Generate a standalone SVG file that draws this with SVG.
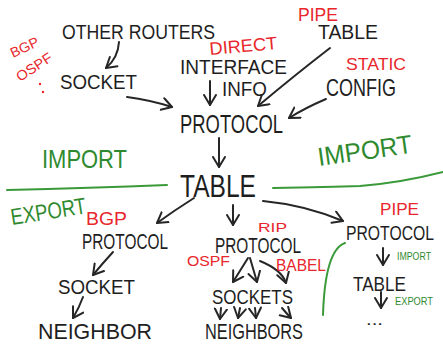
<svg xmlns="http://www.w3.org/2000/svg" width="443" height="344" viewBox="0 0 443 344">
<style>
.k{font-family:"Liberation Sans","DejaVu Sans",sans-serif;fill:#1e1e1e;}
.r{font-family:"Liberation Sans","DejaVu Sans",sans-serif;fill:#e8262b;}
.g{font-family:"Liberation Sans","DejaVu Sans",sans-serif;fill:#2f8a2f;}
.a{fill:none;stroke:#262626;stroke-width:2;stroke-linecap:round;marker-end:url(#h);}
.gl{fill:none;stroke:#3a9a3a;stroke-width:2;stroke-linecap:round;}
</style>
<defs>
<marker id="h" markerUnits="userSpaceOnUse" markerWidth="16" markerHeight="16" refX="11" refY="7" orient="auto">
<path d="M1,1 L11,7 L1,13" fill="none" stroke="#262626" stroke-width="2" stroke-linecap="round" stroke-linejoin="round"/>
</marker>
</defs>
<rect width="443" height="344" fill="#fff"/>
<g id="connectors">
<path class="a" d="M119,42 Q118,58 106,68"/>
<path class="a" d="M127,97 Q150,100 172,107"/>
<path class="a" d="M210,81 L210,105"/>
<path class="a" d="M330,48 Q295,75 258,106"/>
<path class="a" d="M326,99 Q305,108 289,118"/>
<path class="a" d="M219,138 L219,167"/>
<path class="a" d="M194,198 Q175,210 157,223"/>
<path class="a" d="M233,205 L233,225"/>
<path class="a" d="M263,201 Q305,205 343,221"/>
<path class="a" d="M113,252 Q102,264 93,275"/>
<path class="a" d="M83,297 Q79,308 73,318"/>
<path class="a" d="M248,258 L233,282"/>
<path class="a" d="M250,258 L257,282"/>
<path class="a" d="M260,261 Q282,270 286,283"/>
<path class="a" d="M221,308 L220,319"/>
<path class="a" d="M240,308 L238,318"/>
<path class="a" d="M255,308 L256,318"/>
<path class="a" d="M282,308 Q288,315 291,318"/>
<path class="a" d="M383,248 L383,265"/>
<path class="a" d="M381,292 L381,308"/>
<path class="gl" d="M7,190 Q90,188 167,185"/>
<path class="gl" d="M273,188 Q330,187 360,186 Q400,183 443,172"/>
<path class="gl" d="M345,243 Q325,250 323,315"/>
</g>
<g id="other-routers"><text class="k" x="62" y="39" font-size="20" textLength="153" lengthAdjust="spacingAndGlyphs">OTHER ROUTERS</text></g>
<g id="socket-top"><text class="k" x="60" y="89" font-size="21" textLength="77" lengthAdjust="spacingAndGlyphs">SOCKET</text></g>
<g id="bgp-ospf-top">
<text class="r" x="13" y="58" font-size="14" transform="rotate(-25 13 58)" textLength="30" lengthAdjust="spacingAndGlyphs">BGP</text>
<text class="r" x="20" y="82" font-size="14" transform="rotate(-33 20 82)" textLength="40" lengthAdjust="spacingAndGlyphs">OSPF</text>
<circle cx="40" cy="84" r="1.2" fill="#e8262b"/><circle cx="43" cy="92" r="1.2" fill="#e8262b"/>
</g>
<g id="interface-info">
<text class="r" x="210" y="55" font-size="18" transform="rotate(-5 210 55)" textLength="68" lengthAdjust="spacingAndGlyphs">DIRECT</text>
<text class="k" x="180" y="74" font-size="20" textLength="107" lengthAdjust="spacingAndGlyphs">INTERFACE</text>
<text class="k" x="222" y="96" font-size="20" textLength="45" lengthAdjust="spacingAndGlyphs">INFO</text>
</g>
<g id="pipe-table-top">
<text class="r" x="298" y="21" font-size="19" textLength="40" lengthAdjust="spacingAndGlyphs">PIPE</text>
<text class="k" x="318" y="39" font-size="20" textLength="60" lengthAdjust="spacingAndGlyphs">TABLE</text>
</g>
<g id="static-config">
<text class="r" x="346" y="70" font-size="17" textLength="60" lengthAdjust="spacingAndGlyphs">STATIC</text>
<text class="k" x="326" y="96" font-size="24" textLength="70" lengthAdjust="spacingAndGlyphs">CONFIG</text>
</g>
<g id="protocol-top"><text class="k" x="180" y="133" font-size="26" textLength="103" lengthAdjust="spacingAndGlyphs">PROTOCOL</text></g>
<g id="import-left"><text class="g" x="42" y="168" font-size="26" textLength="85" lengthAdjust="spacingAndGlyphs">IMPORT</text></g>
<g id="import-right"><text class="g" x="319" y="166" font-size="26" transform="rotate(-8 319 166)" textLength="95" lengthAdjust="spacingAndGlyphs">IMPORT</text></g>
<g id="table-main"><text class="k" x="180" y="197" font-size="32" textLength="76" lengthAdjust="spacingAndGlyphs">TABLE</text></g>
<g id="export-left"><text class="g" x="12" y="225" font-size="23" transform="rotate(-9 12 225)" textLength="76" lengthAdjust="spacingAndGlyphs">EXPORT</text></g>
<g id="bgp-protocol">
<text class="r" x="86" y="225" font-size="18" textLength="41" lengthAdjust="spacingAndGlyphs">BGP</text>
<text class="k" x="82" y="249" font-size="22" textLength="86" lengthAdjust="spacingAndGlyphs">PROTOCOL</text>
</g>
<g id="socket-left"><text class="k" x="58" y="294" font-size="20" textLength="77" lengthAdjust="spacingAndGlyphs">SOCKET</text></g>
<g id="neighbor"><text class="k" x="38" y="339" font-size="22" textLength="114" lengthAdjust="spacingAndGlyphs">NEIGHBOR</text></g>
<g id="protocol-mid">
<text class="r" x="258" y="232" font-size="13" textLength="29" lengthAdjust="spacingAndGlyphs">RIP</text>
<text class="k" x="215" y="253" font-size="22" textLength="86" lengthAdjust="spacingAndGlyphs">PROTOCOL</text>
<text class="r" x="187" y="266" font-size="15" textLength="43" lengthAdjust="spacingAndGlyphs">OSPF</text>
<text class="r" x="276" y="271" font-size="17" textLength="50" lengthAdjust="spacingAndGlyphs">BABEL</text>
</g>
<g id="sockets"><text class="k" x="212" y="304" font-size="21" textLength="81" lengthAdjust="spacingAndGlyphs">SOCKETS</text></g>
<g id="neighbors"><text class="k" x="205" y="339" font-size="22" textLength="98" lengthAdjust="spacingAndGlyphs">NEIGHBORS</text></g>
<g id="pipe-protocol">
<text class="r" x="380" y="215" font-size="17" textLength="39" lengthAdjust="spacingAndGlyphs">PIPE</text>
<text class="k" x="346" y="240" font-size="21" textLength="88" lengthAdjust="spacingAndGlyphs">PROTOCOL</text>
<text class="g" x="397" y="260" font-size="11" textLength="34" lengthAdjust="spacingAndGlyphs">IMPORT</text>
</g>
<g id="pipe-table">
<text class="k" x="353" y="291" font-size="21" textLength="53" lengthAdjust="spacingAndGlyphs">TABLE</text>
<text class="g" x="395" y="305" font-size="10" textLength="38" lengthAdjust="spacingAndGlyphs">EXPORT</text>
</g>
<g id="ellipsis"><text class="k" x="366" y="325" font-size="16" textLength="17" lengthAdjust="spacingAndGlyphs">...</text></g>
</svg>
